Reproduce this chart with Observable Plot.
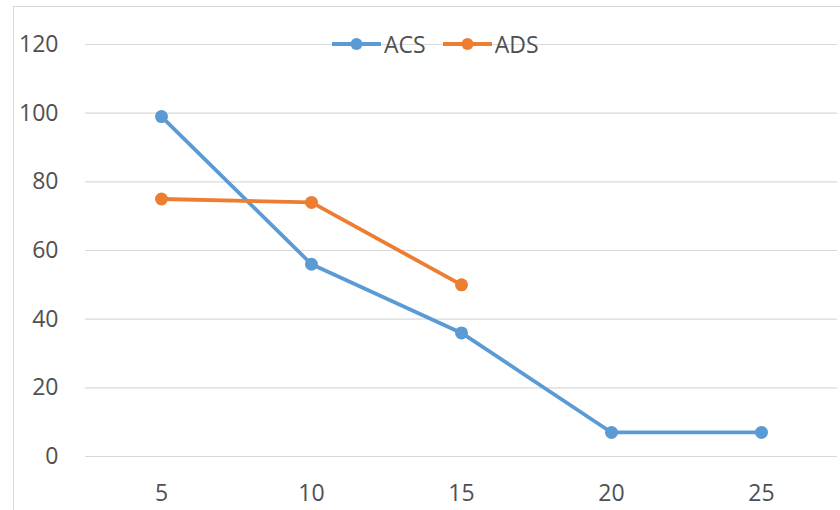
<!DOCTYPE html>
<html>
<head>
<meta charset="utf-8">
<script src="https://cdn.jsdelivr.net/npm/d3@7"></script>
<script src="https://cdn.jsdelivr.net/npm/@observablehq/plot@0.6"></script>
<style>
  html, body { margin: 0; padding: 0; background: #fff; }
  body { width: 840px; height: 510px; position: relative; overflow: hidden; font-family: "Open Sans", sans-serif; }
  #frame { position: absolute; left: 13px; top: 6px; width: 900px; height: 600px; border: 1px solid #d9d9d9; box-sizing: border-box; pointer-events: none; }
  #chart { position: absolute; left: 0; top: 0; }
  #legend { position: absolute; left: 332px; top: 32px; height: 24px; display: flex; align-items: center; font-size: 23px; color: #505050; }
  .entry { display: flex; align-items: center; margin-right: 17px; }
  .entry svg { margin-right: 3px; }
</style>
</head>
<body>
<div id="frame"></div>
<div id="chart"></div>
<div id="legend"></div>
<script>
const xLabels = [5, 10, 15, 20, 25];
const acsValues = [99, 56, 36, 7, 7];
const adsValues = [75, 74, 50];
const yTicks = [0, 20, 40, 60, 80, 100, 120];
const seriesNames = ["ACS", "ADS"];
const seriesColors = ["#5B9BD5", "#ED7D31"];

const rows = [];
acsValues.forEach((v, i) => rows.push({ x: xLabels[i], y: v, s: "ACS" }));
adsValues.forEach((v, i) => rows.push({ x: xLabels[i], y: v, s: "ADS" }));

const plot = Plot.plot({
  width: 840,
  height: 510,
  marginLeft: 85,
  marginRight: 3,
  marginTop: 44,
  marginBottom: 54,
  style: { fontFamily: "Open Sans, sans-serif", fontSize: "23px", color: "#505050", background: "transparent" },
  x: { type: "point", domain: xLabels, padding: 0.5 },
  y: { domain: [0, 120] },
  color: { domain: seriesNames, range: seriesColors },
  marks: [
    Plot.gridY(yTicks, { stroke: "#d9d9d9", strokeOpacity: 1, strokeWidth: 1.2 }),
    Plot.axisY(yTicks, { tickSize: 0, tickPadding: 27, label: null, fill: "#505050" }),
    Plot.axisX(xLabels, { tickSize: 0, tickPadding: 28, label: null, fill: "#505050" }),
    Plot.line(rows, { x: "x", y: "y", z: "s", stroke: "s", strokeWidth: 3.8 }),
    Plot.dot(rows, { x: "x", y: "y", fill: "s", r: 6.5 })
  ]
});
document.getElementById("chart").appendChild(plot);

const legend = document.getElementById("legend");
seriesNames.forEach((name, i) => {
  const e = document.createElement("div");
  e.className = "entry";
  e.innerHTML = `<svg width="49" height="16"><line x1="0" y1="8" x2="49" y2="8" stroke="${seriesColors[i]}" stroke-width="4"/><circle cx="24.5" cy="8" r="6" fill="${seriesColors[i]}"/></svg><span>${name}</span>`;
  legend.appendChild(e);
});
</script>
</body>
</html>
